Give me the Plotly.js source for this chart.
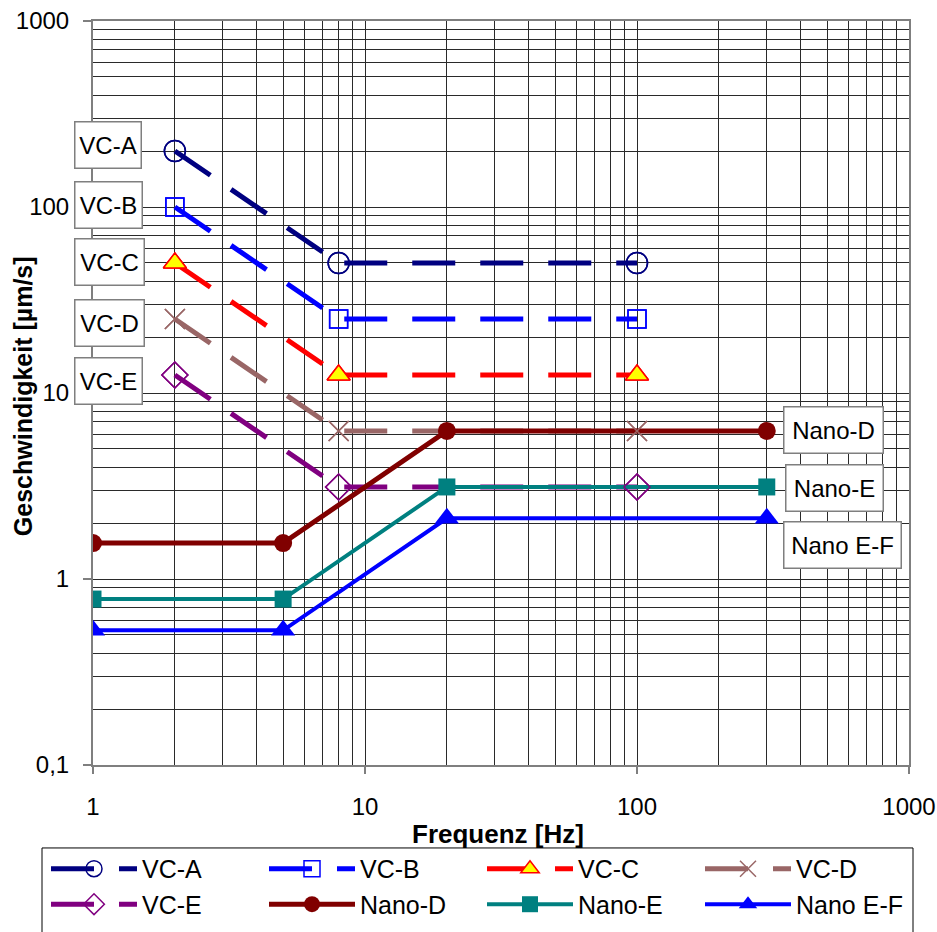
<!DOCTYPE html>
<html><head><meta charset="utf-8">
<script src="https://cdn.plot.ly/plotly-3.0.1.min.js"></script>
<style>html,body{margin:0;padding:0;background:#fff}#chart{width:937px;height:932px}</style>
</head><body><div id="chart"></div>
<script>
// Data
const vcX = [2, 8, 100];
const vcA = [200, 50, 50];
const vcB = [100, 25, 25];
const vcC = [50, 12.5, 12.5];
const vcD = [25, 6.25, 6.25];
const vcE = [12.5, 3.125, 3.125];
const nanoX = [1, 5, 20, 300];
const nanoD = [1.56, 1.56, 6.25, 6.25];
const nanoE = [0.78, 0.78, 3.125, 3.125];
const nanoEF = [0.53, 0.53, 2.12, 2.12];
const yTickVals = [0.1, 1, 10, 100, 1000];
const yTickText = ['0,1', '1', '10', '100', '1000'];
const xTickVals = [1, 10, 100, 1000];
const xTickText = ['1', '10', '100', '1000'];

const dash = '43px,25px';
const vcDefs = [
  {name:'VC-A', y:vcA, color:'#000080', marker:{symbol:'circle-open', size:21, color:'#000080', line:{width:1.5, color:'#000080'}}},
  {name:'VC-B', y:vcB, color:'#0000FF', marker:{symbol:'square-open', size:18, color:'#0000FF', line:{width:1.5, color:'#0000FF'}}},
  {name:'VC-C', y:vcC, color:'#FF0000', marker:{symbol:'triangle-up', size:20, color:'#FFFF00', line:{width:1.5, color:'#FF0000'}}},
  {name:'VC-D', y:vcD, color:'#996666', marker:{symbol:'x-thin-open', size:20, color:'#996666', line:{width:1.5, color:'#996666'}}},
  {name:'VC-E', y:vcE, color:'#800080', marker:{symbol:'diamond-open', size:20, color:'#800080', line:{width:1.5, color:'#800080'}}}
];
const nanoDefs = [
  {name:'Nano-D', y:nanoD, color:'#800000', width:5, marker:{symbol:'circle', size:18, color:'#800000'}},
  {name:'Nano-E', y:nanoE, color:'#008080', width:4, marker:{symbol:'square', size:17, color:'#008080'}},
  {name:'Nano E-F', y:nanoEF, color:'#0000FF', width:4, marker:{symbol:'triangle-up', size:21, color:'#0000FF'}}
];

const traces = [];
vcDefs.forEach(d => traces.push({
  type:'scatter', mode:'lines+markers', name:d.name, x:vcX, y:d.y,
  line:{color:d.color, width:5, dash:dash}, marker:d.marker
}));
nanoDefs.forEach(d => traces.push({
  type:'scatter', mode:'lines+markers', name:d.name, x:nanoX, y:d.y,
  line:{color:d.color, width:d.width}, marker:d.marker
}));
// VC markers drawn above the Nano lines
vcDefs.forEach(d => traces.push({
  type:'scatter', mode:'markers', name:d.name, x:vcX, y:d.y, showlegend:false,
  marker:d.marker, hoverinfo:'skip'
}));

const L=93, R=909, T=20.7, B=765;
const px = v => (v-L)/(R-L);
const py = v => (B-v)/(B-T);
const fontFam = 'Liberation Sans, Arial, sans-serif';

function box(text, cx, cy, w){
  return {text:text, xref:'paper', yref:'paper', x:px(cx), y:py(cy), xanchor:'center', yanchor:'middle',
    showarrow:false, width:w, height:43, borderpad:1, borderwidth:1.5, bordercolor:'#7f7f7f', bgcolor:'#ffffff',
    font:{family:fontFam, size:24, color:'#000'}};
}
const annotations = [
  box('VC-A', 108, 145, 63),
  box('VC-B', 108, 205, 64),
  box('VC-C', 109, 262, 66),
  box('VC-D', 109, 323, 66),
  box('VC-E', 108, 381, 64),
  box('Nano-D', 833, 430, 96),
  box('Nano-E', 834, 488, 94),
  box('Nano E-F', 842, 544.5, 114),
  {text:'<b>Frequenz [Hz]</b>', xref:'paper', yref:'paper', x:px(498), y:py(834), xanchor:'center', yanchor:'middle', showarrow:false, font:{family:fontFam, size:26, color:'#000'}},
  {text:'<b>Geschwindigkeit [µm/s]</b>', xref:'paper', yref:'paper', x:px(23), y:py(396), xanchor:'center', yanchor:'middle', textangle:-90, showarrow:false, font:{family:fontFam, size:25, color:'#000'}}
];

const gridc = '#2a2a2a';
const layout = {
  width:937, height:932,
  margin:{l:L, r:937-R, t:T, b:932-B, autoexpand:false},
  paper_bgcolor:'#fff', plot_bgcolor:'#fff',
  font:{family:fontFam, size:24, color:'#000'},
  showlegend:true,
  xaxis:{type:'log', range:[0,3], tickvals:xTickVals, ticktext:xTickText,
    showgrid:true, gridcolor:gridc, gridwidth:1,
    minor:{dtick:'D1', showgrid:true, gridcolor:gridc, gridwidth:1, ticks:''},
    showline:true, linecolor:'#7f7f7f', linewidth:2, mirror:true,
    ticks:'outside', ticklen:7, tickcolor:'#7f7f7f', tickwidth:1.5,
    ticklabelstandoff:12, zeroline:false,
    tickfont:{family:fontFam, size:24, color:'#000'}},
  yaxis:{type:'log', range:[-1,3], tickvals:yTickVals, ticktext:yTickText,
    showgrid:true, gridcolor:gridc, gridwidth:1,
    minor:{dtick:'D1', showgrid:true, gridcolor:gridc, gridwidth:1, ticks:''},
    showline:true, linecolor:'#7f7f7f', linewidth:2, mirror:true,
    ticks:'outside', ticklen:8, tickcolor:'#7f7f7f', tickwidth:1.5,
    ticklabelstandoff:9, zeroline:false,
    tickfont:{family:fontFam, size:24, color:'#000'}},
  legend:{orientation:'h', x:px(46), y:py(846), xanchor:'left', yanchor:'top',
    entrywidth:117, entrywidthmode:'pixels', itemwidth:86,
    borderwidth:0, bgcolor:'rgba(0,0,0,0)',
    font:{family:fontFam, size:25, color:'#000'}, tracegroupgap:0},
  shapes:[{type:'rect', xref:'paper', yref:'paper', x0:px(42), x1:px(913), y0:py(848), y1:py(945),
    line:{color:'#000', width:1}, fillcolor:'rgba(0,0,0,0)', layer:'below'}],
  annotations:annotations
};
Plotly.newPlot('chart', traces, layout, {displayModeBar:false, staticPlot:true});
</script></body></html>
